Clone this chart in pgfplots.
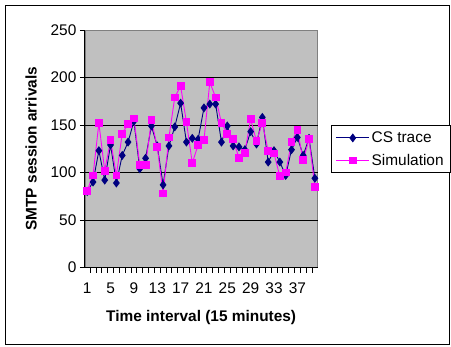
\documentclass[border=0pt]{standalone}
\usepackage{pgfplots}
\pgfplotsset{compat=1.18}
\usepackage{fontspec}
\setmainfont{Liberation Sans}
\definecolor{plotgray}{HTML}{C0C0C0}
\definecolor{csnavy}{HTML}{000080}
\definecolor{simmag}{HTML}{FF00FF}
\begin{document}
\begin{tikzpicture}[x=1bp,y=1bp]
\path (-85,-79) rectangle (366,268);
\draw[black,line width=0.8bp] (-80,-77) rectangle (365,263);
\begin{axis}[
  at={(0,0)}, anchor=south west,
  scale only axis, width=233bp, height=238bp,
  xmin=0.6, xmax=40.45, ymin=0, ymax=250,
  axis x line*=bottom, axis y line*=left,
  axis line style={black, line width=0.8bp},
  axis background/.style={fill=plotgray, draw=gray},
  font=\fontsize{15.5}{18}\selectfont,
  /pgf/number format/assume math mode=true,
  xtick={1,5,...,37},
  major x tick style={draw=none},
  minor xtick={0.5,1.5,...,40.5},
  minor x tick style={black, line width=0.8bp},
  minor tick length=5bp,
  ytick={0,50,...,250},
  major y tick style={black, line width=0.8bp},
  major tick length=5bp,
  tick align=outside,
  extra y ticks={50,100,150,200},
  extra y tick labels={},
  extra y tick style={ymajorgrids=true, major tick length=0pt},
  grid style={black, line width=0.7bp},
  xticklabel style={yshift=-7bp},
  xlabel={\bfseries Time interval (15 minutes)},
  ylabel={\bfseries SMTP session arrivals},
  xlabel style={yshift=-10bp},
  ylabel style={yshift=2bp},
  legend cell align=left,
  legend style={at={(1.056,0.498)}, anchor=west, draw=black, line width=0.8bp,
    font=\fontsize{15.5}{18}\selectfont, inner xsep=5bp, inner ysep=4bp, row sep=6bp},
  legend image code/.code={\draw[mark repeat=2,mark phase=2] plot coordinates {(0cm,0cm) (0.58cm,0cm) (1.16cm,0cm)};},
]
\addplot[csnavy, line width=0.9bp, mark=diamond*, mark size=3.8bp, mark options={fill=csnavy, draw=csnavy}] coordinates {
(1,80) (2,90) (3,123) (4,92) (5,129) (6,89) (7,118) (8,132) (9,154) (10,104)
(11,115) (12,149) (13,128) (14,87) (15,128) (16,148) (17,173) (18,132) (19,136) (20,135)
(21,168) (22,172) (23,172) (24,132) (25,149) (26,128) (27,127) (28,124) (29,143) (30,130)
(31,158) (32,111) (33,123) (34,111) (35,97) (36,124) (37,137) (38,118) (39,136) (40,94)
};
\addlegendentry{CS trace}
\addplot[simmag, line width=0.9bp, mark=square*, mark size=3.4bp, mark options={fill=simmag, draw=simmag}] coordinates {
(1,81) (2,97) (3,152) (4,102) (5,134) (6,97) (7,141) (8,151) (9,157) (10,108)
(11,108) (12,155) (13,127) (14,78) (15,137) (16,179) (17,191) (18,153) (19,110) (20,129)
(21,134) (22,195) (23,179) (24,152) (25,141) (26,135) (27,115) (28,121) (29,156) (30,133)
(31,152) (32,123) (33,120) (34,96) (35,100) (36,132) (37,145) (38,113) (39,135) (40,85)
};
\addlegendentry{Simulation}
\end{axis}
\end{tikzpicture}
\end{document}
